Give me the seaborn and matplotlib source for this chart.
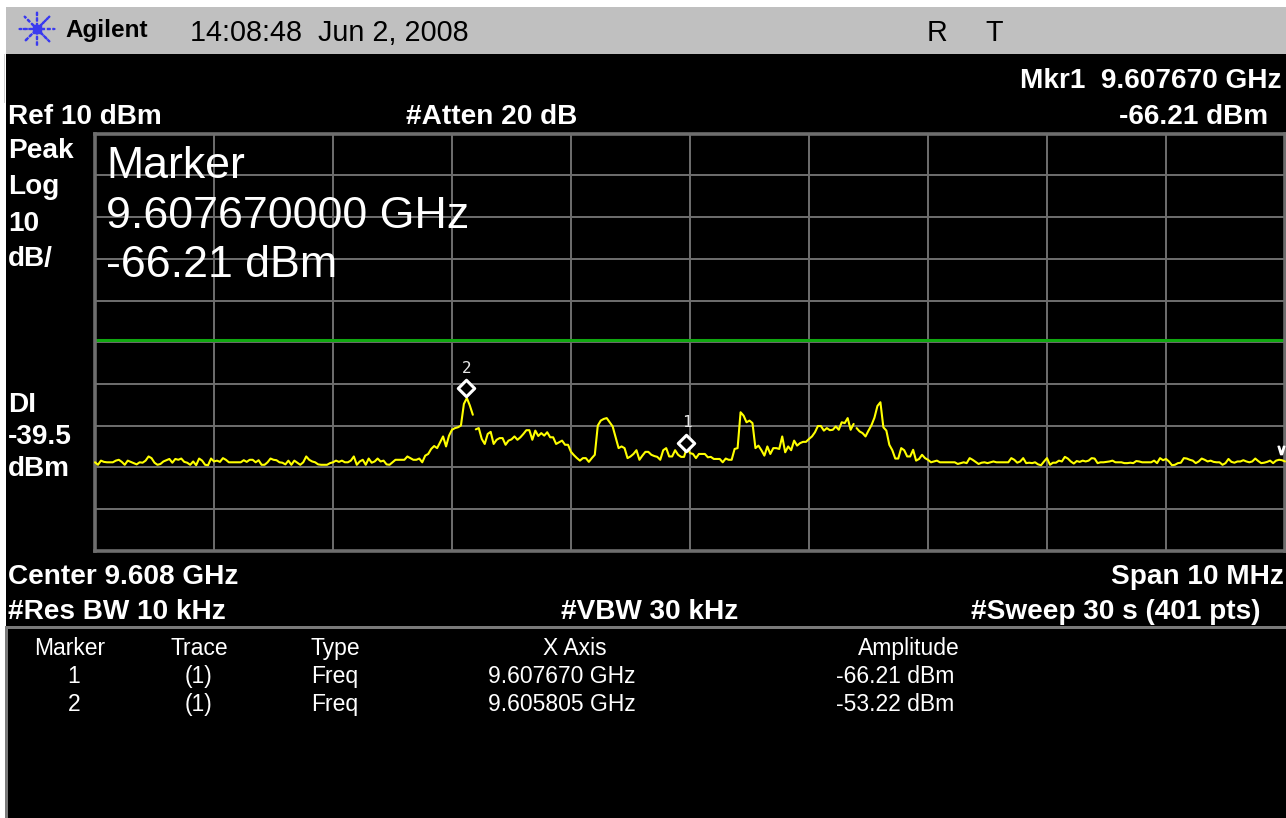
import numpy as np
import pandas as pd
import seaborn as sns
import matplotlib
matplotlib.use("Agg")
import matplotlib.pyplot as plt
from matplotlib.patches import Rectangle

W, H = 1286, 818

# Sweep settings
start_ghz = 9.603
step_ghz = 0.000025
display_line = -39.5

trace_a = [-68.8, -69.4, -68.4, -68.7, -68.8, -68.8, -68.8, -68.4, -68.2, -68.7,
           -69.4, -68.4, -68.7, -69.0, -69.3, -68.8, -68.9, -68.4, -67.4, -67.8,
           -68.9, -69.4, -69.2, -68.6, -68.3, -68.0, -68.9, -68.0, -68.2, -67.9,
           -68.7, -68.9, -69.4, -68.6, -69.5, -67.9, -68.4, -69.4, -69.5, -67.9,
           -68.6, -68.4, -68.7, -67.8, -68.2, -68.8, -68.8, -68.8, -68.8, -68.8,
           -68.3, -68.7, -68.2, -68.2, -68.8, -68.3, -69.4, -69.4, -68.8, -67.9,
           -68.2, -68.3, -68.8, -68.9, -69.3, -68.4, -69.4, -68.4, -68.9, -69.4,
           -68.8, -67.4, -68.2, -68.6, -68.8, -69.3, -69.4, -69.4, -69.4, -69.0,
           -68.8, -68.4, -68.7, -68.4, -68.8, -68.8, -68.4, -67.4, -69.4, -68.6,
           -68.2, -69.4, -67.9, -68.9, -68.6, -67.9, -68.6, -68.4, -69.3, -69.4,
           -68.8, -68.2, -68.2, -68.2, -68.2, -67.4, -67.8, -68.2, -68.2, -67.9,
           -68.8, -67.2, -66.8, -65.6, -64.9, -65.4, -64.0, -62.6, -65.0, -62.4,
           -61.0, -60.6, -60.4, -60.0, -54.8, -53.4, -55.2, -57.4]
trace_b = [-60.9, -60.6, -63.2, -64.4, -62.0, -61.5, -64.4, -63.4, -63.0, -63.0,
           -64.6, -63.6, -63.3, -62.6, -63.4, -62.8, -62.0, -61.1, -61.1, -63.4,
           -61.2, -62.5, -61.8, -62.4, -61.6, -62.8, -62.8, -64.4, -64.0, -63.6,
           -64.6, -64.6, -66.3, -67.1, -67.8, -68.4, -67.8, -67.8, -68.7, -67.8,
           -67.0, -60.0, -58.8, -58.4, -58.2, -59.2, -60.2, -62.8, -65.4, -65.0,
           -65.4, -67.8, -67.4, -66.8, -65.9, -68.2, -67.2, -66.3, -66.3, -67.0,
           -67.3, -67.5, -68.2, -65.9, -65.4, -67.4, -67.4, -65.9, -67.0, -67.5,
           -67.5, -65.1, -66.6, -66.8, -67.8, -66.8, -66.8, -66.8, -67.6, -67.5,
           -68.0, -68.0, -68.0, -68.8, -67.9, -68.2, -68.2, -65.6, -65.4, -56.8,
           -57.6, -59.2, -58.8, -59.4, -65.4, -64.8, -65.9, -67.2, -65.0, -66.8,
           -65.4, -65.4, -65.6, -62.6, -66.4, -65.0, -65.9, -63.6, -64.8, -64.2,
           -63.9, -63.9, -63.2, -62.6, -61.6, -60.1, -60.1, -61.2, -60.6, -61.1,
           -61.0, -60.2, -61.0, -59.2, -59.4, -58.2, -61.0, -59.6]
trace_c = [-60.6, -61.4, -61.8, -62.6, -61.2, -59.9, -58.1, -55.3, -54.4, -60.4,
           -61.2, -64.6, -65.9, -67.9, -67.9, -65.4, -65.9, -67.4, -67.4, -65.8,
           -68.4, -68.0, -67.0, -67.8, -68.2,
           -68.8, -68.6, -68.4, -68.8, -68.8, -68.8, -68.8, -68.8, -68.8, -69.2,
           -69.0, -68.8, -69.0, -67.8, -68.2, -68.7, -69.2, -68.9, -68.8, -69.0,
           -68.8, -68.6, -68.8, -68.8, -68.8, -68.8, -68.8, -67.8, -68.2, -68.9,
           -68.6, -67.8, -69.0, -68.9, -69.0, -68.8, -69.3, -69.5, -68.6, -67.8,
           -69.4, -68.9, -68.9, -68.4, -68.6, -67.5, -67.9, -68.6, -69.1, -68.5,
           -68.7, -68.4, -68.6, -68.4, -67.8, -67.9, -69.0, -68.8, -68.8, -68.7,
           -68.6, -68.4, -68.8, -68.8, -68.8, -69.0, -69.0, -68.9, -69.0, -68.5,
           -68.6, -68.8, -68.8, -68.8, -68.8, -68.4, -69.0, -67.8, -68.3, -68.0,
           -68.6, -69.5, -69.4, -69.0, -68.9, -67.8, -67.9, -68.2, -68.4, -69.0,
           -68.6, -67.9, -68.2, -68.6, -68.4, -68.7, -68.8, -68.8, -69.4, -69.0,
           -68.0, -68.7, -68.9, -68.6, -68.6, -68.3, -68.6, -68.8, -68.6, -67.9,
           -68.5, -69.0, -68.9, -68.7, -68.4, -69.0, -68.4, -68.2, -68.3, -68.6]

# Marker diamonds as they sit on screen
marker_ghz = [9.60797, 9.60612]
marker_dbm = [-64.1, -51.1]
marker_names = ["1", "2"]

table_headers = ["Marker", "Trace", "Type", "X Axis", "Amplitude"]
table_row1 = ["1", "(1)", "Freq", "9.607670 GHz", "-66.21 dBm"]
table_row2 = ["2", "(1)", "Freq", "9.605805 GHz", "-53.22 dBm"]

sns.set_theme(style="dark")
plt.rcParams["font.family"] = ["Liberation Sans", "DejaVu Sans"]

values = trace_a + trace_b + trace_c
segments = ["a"] * len(trace_a) + ["b"] * len(trace_b) + ["c"] * len(trace_c)
trace = pd.DataFrame({
    "ghz": start_ghz + step_ghz * np.arange(len(values)),
    "dbm": values,
    "segment": segments,
})

fig = plt.figure(figsize=(W / 100, H / 100), dpi=100, facecolor="white")


def box(x0, y0, x1, y1, color):
    fig.add_artist(Rectangle((x0 / W, 1 - y1 / H), (x1 - x0) / W, (y1 - y0) / H,
                             transform=fig.transFigure, color=color, lw=0, zorder=-1))


def label(x, y, s, size=20.2, weight="bold", ha="left", **kw):
    # y is the text baseline in pixels from the top
    fig.text(x / W, 1 - y / H, s, color=kw.pop("color", "white"), fontsize=size,
             fontweight=weight, ha=ha, va="baseline", zorder=5, **kw)


box(6, 7, W, 54, "#c0c0c0")
box(6, 54, W, H, "black")
box(4, 54, 5, 103, "#d0d0d0")
box(5, 626, W, 629, "#7a7a7a")
box(5, 626, 8, H, "#7a7a7a")

ax = fig.add_axes([95 / W, 1 - 550.7 / H, 1190 / W, 417 / H], facecolor="black")
ax.set_xlim(start_ghz, start_ghz + 0.01)
ax.set_ylim(-90, 10)
ax.set_xticks(start_ghz + 0.001 * np.arange(1, 10))
ax.set_yticks(np.arange(-80, 10, 10))
ax.tick_params(length=0, labelbottom=False, labelleft=False)
ax.grid(True, color="#6e6e6e", lw=1.4)
for name, spine in ax.spines.items():
    spine.set_visible(True)
    spine.set_color("#6e6e6e")
    spine.set_linewidth(2.6)

ax.axhline(display_line, color="#10a810", lw=2.2, zorder=2)
sns.lineplot(data=trace, x="ghz", y="dbm", units="segment", estimator=None,
             color="#ffff00", lw=1.5, ax=ax, zorder=3, clip_on=False)
ax.set_xlabel("")
ax.set_ylabel("")
sns.scatterplot(x=marker_ghz, y=marker_dbm, marker="D", s=70, color="black",
                edgecolor="white", linewidth=2.2, ax=ax, zorder=4)
for g, d, n in zip(marker_ghz, marker_dbm, marker_names):
    ax.annotate(n, (g, d), xytext=(0, 9), textcoords="offset points", ha="center",
                va="bottom", color="#e8e8e8", fontsize=11.5, family="DejaVu Sans Mono",
                fontweight="light", zorder=4)
ax.plot([9.61297], [-65.8], marker="$\\vee$", ms=6, color="white", zorder=4, clip_on=False)

# Header bar
logo = fig.add_axes([17 / W, 1 - 49 / H, 40 / W, 40 / H])
logo.axis("off")
logo.set_xlim(-1, 1)
logo.set_ylim(-1, 1)
logo.scatter([0], [0], marker=(8, 2, 0), s=620, color="#3a3af0", linewidth=1.6,
             linestyle=(0, (1.5, 1)))
logo.scatter([0], [0], marker="s", s=28, color="#3a3af0", zorder=3)
label(65, 37, "Agilent", size=17.5, color="black")
label(190, 41, "14:08:48  Jun 2, 2008", size=20.7, weight="normal", color="black")
label(927, 41, "R", size=20.7, weight="normal", color="black")
label(985, 41, "T", size=20.7, weight="normal", color="black")

# Readouts above the screen
label(1282, 88, "Mkr1  9.607670 GHz", ha="right")
label(8, 124, "Ref 10 dBm")
label(406, 124, "#Atten 20 dB")
label(1268, 124, "-66.21 dBm", ha="right")

# Left side readouts
for y, s in zip([158, 194, 231, 266], ["Peak", "Log", "10", "dB/"]):
    label(8, y, s)
for y, s in zip([412, 444, 476], ["DI", "-39.5", "dBm"]):
    label(8, y, s)

# Big active marker readout
for y, s in zip([178, 228, 277], ["Marker", "9.607670000 GHz", "-66.21 dBm"]):
    label(106, y, s, size=32.2, weight="normal")

# Readouts under the screen
label(8, 584, "Center 9.608 GHz")
label(1284, 584, "Span 10 MHz", ha="right")
label(8, 619, "#Res BW 10 kHz")
label(561, 619, "#VBW 30 kHz")
label(971, 619, "#Sweep 30 s (401 pts)")

# Marker table
for x, s in zip([70, 199, 335, 575, 909], table_headers):
    label(x, 655, s, size=16.5, weight="normal", ha="center")
for x, a, b in zip([74, 199, 335, 562, 895], table_row1, table_row2):
    label(x, 683, a, size=16.5, weight="normal", ha="center")
    label(x, 711, b, size=16.5, weight="normal", ha="center")

fig.savefig("out.png", dpi=100, facecolor="white")
